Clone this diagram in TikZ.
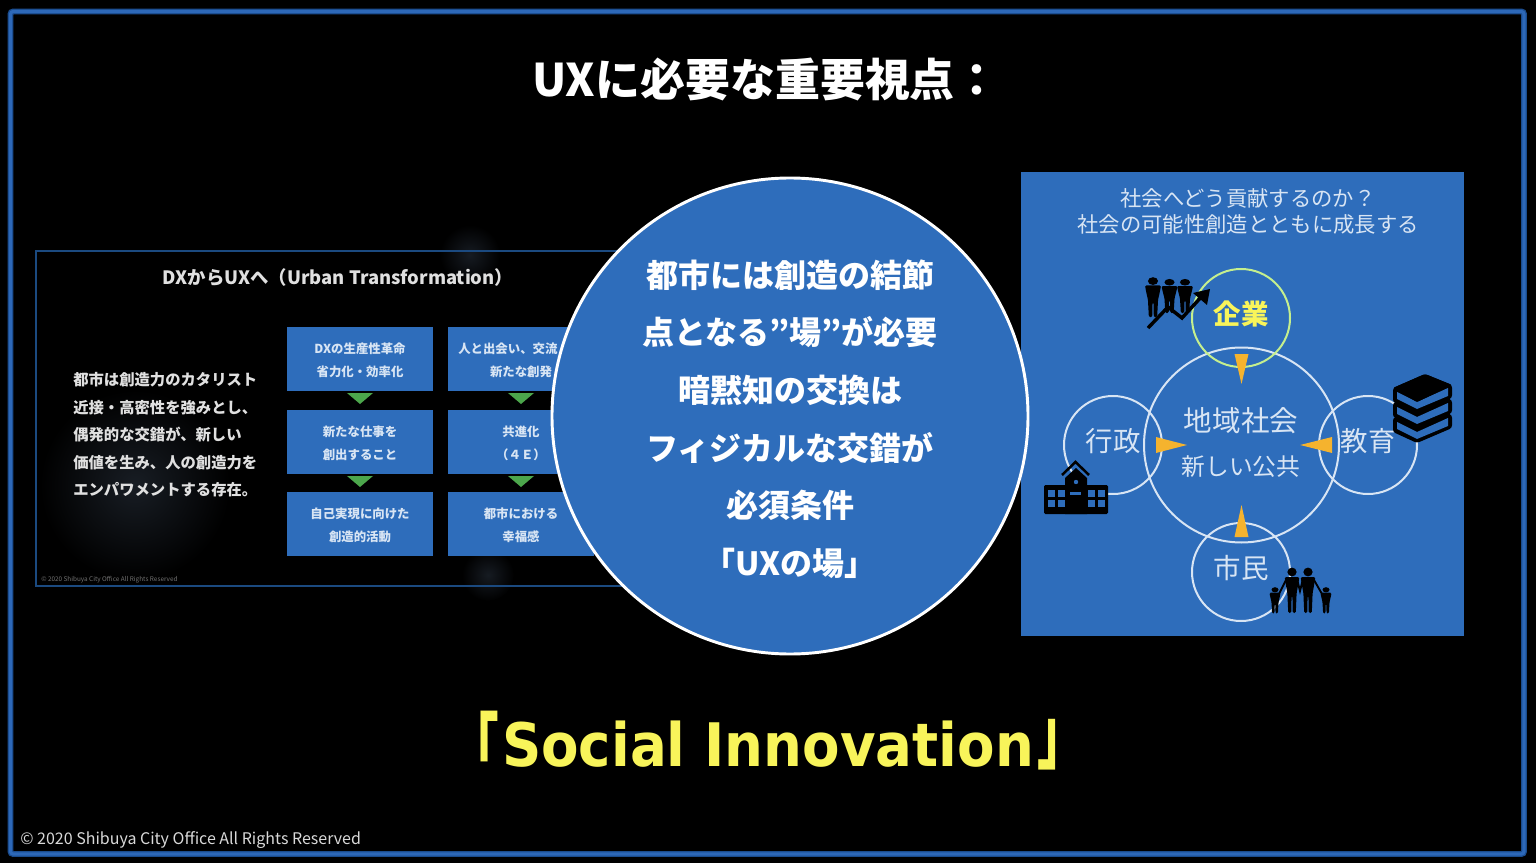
\documentclass[tikz,border=0pt]{standalone}
\usepackage{fontspec}
\usepackage{graphicx}
\setmainfont{Noto Sans CJK JP}
\newfontfamily\dvfont{DejaVu Sans}
\usetikzlibrary{arrows.meta}
\newdimen\upx \upx=0.75pt
\definecolor{panelblue}{HTML}{2E6DBB}
\definecolor{frameouter}{HTML}{1A4C8E}
\definecolor{frameinner}{HTML}{2D68B8}
\definecolor{lframe}{HTML}{1B4A80}
\definecolor{softwhite}{HTML}{D8E5F4}
\definecolor{ybright}{HTML}{F8F45A}
\definecolor{arrowor}{HTML}{F5B32E}
\definecolor{tgreen}{HTML}{4CA64C}
\definecolor{glowa}{HTML}{181D24}
\definecolor{glowb}{HTML}{161B22}
\tikzset{
 lbl/.style={inner sep=0pt,align=center,text=white},
 flowbox/.style={fill=panelblue,minimum width=146\upx,minimum height=64\upx,inner sep=0pt,align=center,text=softwhite,font=\fontsize{9.3pt}{17.25pt}\selectfont\bfseries},
 ring/.style={circle,draw=softwhite,line width=1.5pt,inner sep=0pt,minimum size=98\upx},
}
\newcommand{\fig}[4]{% x y xscale yscale
 \begin{scope}[shift={(#1,#2)},xscale=#3,yscale=#4]
  \fill[black] (0,-9) circle[radius=4.4];
  \fill[black,rounded corners=1pt] (-7,-4) -- (7,-4) -- (5.5,6) -- (4.4,12) -- (3.6,32) -- (0.7,32) -- (0.4,15) -- (-0.4,15) -- (-0.7,32) -- (-3.6,32) -- (-4.4,12) -- (-5.5,6) -- cycle;
 \end{scope}}
\begin{document}
\begin{tikzpicture}[x=0.75pt,y=-0.75pt]
\useasboundingbox (0,0) rectangle (1536,863);
\fill[black] (0,0) rectangle (1536,863);
\draw[frameouter,line width=4.4pt,rounded corners=2pt] (10.5,11.5) rectangle (1524,854);
\draw[frameinner,line width=2.4pt,rounded corners=2pt] (10.5,11.5) rectangle (1524,854);
% glows
\shade[inner color=glowa,outer color=black] (135,485) circle[radius=95];
\shade[inner color=glowb,outer color=black] (470,255) circle[radius=30];
\shade[inner color=glowb,outer color=black] (488,575) circle[radius=26];
% left panel
\draw[lframe,line width=1.4pt] (625,251) -- (36,251) -- (36,586) -- (625,586);
\node[lbl,text=white!88!black,font=\fontsize{13.8pt}{16pt}\selectfont\bfseries] (ltitle) at (338,278) {DXからUXへ（Urban Transformation）};
\node[lbl,anchor=west,align=left,text=white!88!black,font=\fontsize{11.5pt}{20.6pt}\selectfont\bfseries] (lpara) at (73,435) {都市は創造力のカタリスト\\近接・高密性を強みとし、\\偶発的な交錯が、新しい\\価値を生み、人の創造力を\\エンパワメントする存在。};
\node[flowbox] (a1) at (360,358.5) {};
\node[flowbox] (a2) at (360,441.5) {};
\node[flowbox] (a3) at (360,524) {};
\node[flowbox] (b1) at (521,358.5) {};
\node[flowbox] (b2) at (521,441.5) {};
\node[flowbox] (b3) at (521,524) {};
\tikzset{boxtext/.style={lbl,align=center,text=softwhite,font=\fontsize{9.3pt}{17.25pt}\selectfont\bfseries}}
\node[boxtext] (a1t) at (360,360) {DXの生産性革命\\省力化・効率化};
\node[boxtext] (a2t) at (360,443) {新たな仕事を\\創出すること};
\node[boxtext] (a3t) at (360,525) {自己実現に向けた\\創造的活動};
\node[boxtext,anchor=west] (b1t) at (458,348.5) {人と出会い、交流};
\node[boxtext] (b1u) at (521,371.5) {新たな創発};
\node[boxtext] (b2t) at (521,443) {共進化\\（４Ｅ）};
\node[boxtext] (b3t) at (521,525) {都市における\\幸福感};
\foreach \x in {360,521}{
 \fill[tgreen] (\x-13,393) -- (\x+13,393) -- (\x,404) -- cycle;
 \fill[tgreen] (\x-13,476) -- (\x+13,476) -- (\x,487) -- cycle;
}
\node[lbl,anchor=west,text=white!45!black,font=\fontsize{4.8pt}{5pt}\selectfont] (lcopy) at (41,579.5) {© 2020 Shibuya City Office All Rights Reserved};
% right panel
\fill[panelblue] (1021,172) rectangle (1464,636);
\node[lbl,text=softwhite,font=\fontsize{16pt}{19.5pt}\selectfont] (rhead) at (1248,211) {社会へどう貢献するのか？\\社会の可能性創造とともに成長する};
\node[ring,minimum size=195\upx] (hub) at (1241.5,445) {};
\node[ring,draw=softwhite!50!ybright!85!green] (top) at (1241,318) {};
\node[ring] (lft) at (1113,445) {};
\node[ring] (rgt) at (1368,445) {};
\node[ring] (bot) at (1241,572) {};
\node[lbl,text=softwhite,font=\fontsize{21.4pt}{24pt}\selectfont] (t1) at (1241,421) {地域社会};
\node[lbl,text=softwhite,font=\fontsize{17.8pt}{20pt}\selectfont] (t2) at (1241,467) {新しい公共};
\node[lbl,text=ybright,font=\fontsize{20.6pt}{24pt}\selectfont\bfseries] (t3) at (1241,314) {企業};
\node[lbl,text=softwhite,font=\fontsize{20.6pt}{24pt}\selectfont] (t4) at (1113,441) {行政};
\node[lbl,text=softwhite,font=\fontsize{20.6pt}{24pt}\selectfont] (t5) at (1368,441) {教育};
\node[lbl,text=softwhite,font=\fontsize{20.6pt}{24pt}\selectfont] (t6) at (1241,568) {市民};
\fill[arrowor] (1234.5,354) -- (1248.5,354) -- (1241.5,384) -- cycle;
\fill[arrowor] (1234.5,537) -- (1248.5,537) -- (1241.5,505) -- cycle;
\fill[arrowor] (1156,437) -- (1156,453) -- (1187,445) -- cycle;
\fill[arrowor] (1332,437) -- (1332,453) -- (1300,445) -- cycle;
% icon: people + arrow
\fig{1153}{289}{1.15}{0.88}\fig{1169.5}{289}{1.15}{0.75}\fig{1185}{289}{1.15}{0.75}
\draw[black,line width=2.6pt] (1148,328) -- (1168,307) -- (1182,318) -- (1203,295);
\fill[black] (1210,289) -- (1207,305) -- (1193,293) -- cycle;
% icon: school
\fill[black,rounded corners=1pt] (1044,485) rectangle (1108,514);
\fill[black] (1065,478) -- (1076,468) -- (1087,478) -- (1087,514) -- (1065,514) -- cycle;
\draw[black,line width=1.9pt] (1062,475) -- (1075.5,462) -- (1089,475);
\foreach \x in {1048,1058,1088,1098}{\foreach \y in {490,500}{\fill[panelblue] (\x,\y) rectangle +(7,7);}}
\fill[panelblue] (1076,482) circle[radius=2.2];
\fill[panelblue] (1070,492) rectangle (1081,494.5);
% icon: books
\foreach \dy in {30,15,0}{
 \fill[black,rounded corners=2pt] (1393,388+\dy) -- (1425,374+\dy) -- (1452,385+\dy) -- (1452,398+\dy) -- (1417,413+\dy) -- (1393,402+\dy) -- cycle;
 \fill[panelblue] (1397,392+\dy) -- (1417,402+\dy) -- (1448,388+\dy) -- (1448,396+\dy) -- (1417,409+\dy) -- (1397,399+\dy) -- cycle;
}
\fill[black,rounded corners=1pt] (1393,388) -- (1425,374) -- (1452,385) -- (1417,402) -- cycle;
% icon: family
\fig{1292}{581}{1.05}{1.0}\fig{1308}{581}{1.05}{1.0}\fig{1275}{595}{0.8}{0.58}\fig{1326}{595}{0.8}{0.58}
\draw[black,line width=1.4pt,line cap=round] (1279,594) -- (1286,580);
\draw[black,line width=1.4pt,line cap=round] (1322,594) -- (1314,580);
\draw[black,line width=1.4pt,line cap=round] (1297,579) -- (1300,591) -- (1303,579);
% central circle
\node[circle,fill=panelblue,draw=white,line width=2.2pt,minimum size=476\upx,inner sep=0pt] (mid) at (790,416) {};
\node[lbl,font=\fontsize{24pt}{43.2pt}\selectfont\bfseries] (midt) at (790,419) {都市には創造の結節\\点となる”場”が必要\\暗黙知の交換は\\フィジカルな交錯が\\必須条件\\「UXの場」};
% title etc
\node[lbl,font=\fontsize{33.7pt}{38pt}\selectfont\bfseries] (title) at (766,79) {UXに必要な重要視点：};
\node[lbl,text=ybright,font=\fontsize{45pt}{50pt}\dvfont\selectfont\bfseries] (social) at (768,744) {\scalebox{0.91}[1]{Social Innovation}};
\node[lbl,anchor=east,text=ybright,font=\fontsize{60pt}{60pt}\selectfont\bfseries] (brl) at (499,745) {\scalebox{0.62}[1]{「}};
\node[lbl,anchor=west,text=ybright,font=\fontsize{60pt}{60pt}\selectfont\bfseries] (brr) at (1037,745) {\scalebox{0.62}[1]{」}};
\node[lbl,anchor=west,text=white!85!black,font=\fontsize{12pt}{14pt}\selectfont] (copy) at (20,840) {© 2020 Shibuya City Office All Rights Reserved};
\end{tikzpicture}
\end{document}
